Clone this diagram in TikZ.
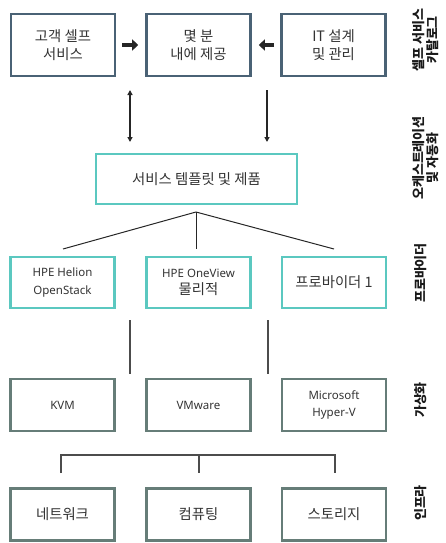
\documentclass[tikz,border=0pt]{standalone}
\usepackage{fontspec}
\setmainfont{Noto Sans}
\newfontfamily\krfont[Scale=1.25]{Noto Sans CJK KR}
\newfontfamily\krside{Noto Sans CJK KR}
\newcommand{\K}[1]{{\krfont #1}}
\usetikzlibrary{arrows.meta}
\definecolor{topc}{HTML}{4A6275}
\definecolor{tealc}{HTML}{5BC8C0}
\definecolor{grayc}{HTML}{667D78}
\definecolor{textc}{HTML}{333333}
\tikzset{
  boxbase/.style={draw, line width=2.6pt, minimum width=104pt, align=center, text=textc, font=\fontsize{11.5}{17.5}\selectfont, inner sep=2pt},
  topbox/.style={boxbase, draw=topc, minimum height=62pt},
  tealbox/.style={boxbase, draw=tealc, minimum height=51pt},
  graybox/.style={boxbase, draw=grayc, minimum height=52pt},
  sidelabel/.style={rotate=90, align=center, text=black!90, font=\krside\bfseries\fontsize{13}{14.5}\selectfont},
  boldarrow/.style={line width=3.5pt, -{Triangle[length=6pt,width=11pt]}, color=black!85},
  thinarrow/.style={line width=1.3pt, color=black!85},
  thinline/.style={line width=1pt, color=black!85},
  grayline/.style={line width=1.4pt, color=black!70},
}
\begin{document}
\begin{tikzpicture}[x=1pt,y=-1pt]
\useasboundingbox (0,0) rectangle (445,543);
% top row
\node[topbox] (self) at (63,45) {\K{고객 셀프}\\\K{서비스}};
\node[topbox] (mins) at (198.5,45) {\K{몇 분}\\\K{내에 제공}};
\node[topbox] (itd) at (333.5,45) {\K{IT 설계}\\\K{및 관리}};
\draw[boldarrow, shorten <=6pt, shorten >=7pt] (self.east) -- (mins.west);
\draw[boldarrow, shorten <=6pt, shorten >=7pt] (itd.west) -- (mins.east);
% template
\node[tealbox, minimum width=201pt, minimum height=50pt] (tmpl) at (196.5,179) {\K{서비스 템플릿 및 제품}};
\coordinate (a1) at (130,90);
\coordinate (a2) at (130,142);
\coordinate (b1) at (267,90);
\coordinate (b2) at (267,142);
\draw[thinarrow, {Triangle[length=5pt,width=5pt]}-{Triangle[length=5pt,width=5pt]}] (a1) -- (a2);
\draw[thinarrow, -{Triangle[length=5pt,width=5pt]}] (b1) -- (b2);
% providers
\node[tealbox] (helion) at (62.5,282.5) {HPE Helion\\OpenStack};
\node[tealbox] (oneview) at (198.5,282.5) {HPE OneView\\\K{물리적}};
\node[tealbox] (prov) at (334,282.5) {\K{프로바이더 1}};
\coordinate (t0) at (196,212);
\coordinate (p1) at (63,249);
\coordinate (p2) at (196,249);
\coordinate (p3) at (334,249);
\draw[thinline] (t0) -- (p1);
\draw[thinline] (t0) -- (p2);
\draw[thinline] (t0) -- (p3);
% virtualization
\node[graybox] (kvm) at (62.5,405) {KVM};
\node[graybox] (vmw) at (198.5,405) {VMware};
\node[graybox] (hyv) at (334,405) {Microsoft\\Hyper-V};
\coordinate (v1a) at (130,320);
\coordinate (v1b) at (130,374);
\coordinate (v2a) at (268,320);
\coordinate (v2b) at (268,374);
\draw[grayline] (v1a) -- (v1b);
\draw[grayline] (v2a) -- (v2b);
% infra
\node[graybox] (net) at (62.5,514.5) {\K{네트워크}};
\node[graybox] (cmp) at (198.5,514.5) {\K{컴퓨팅}};
\node[graybox] (sto) at (334,514.5) {\K{스토리지}};
\coordinate (k1) at (61,473);
\coordinate (k2) at (199,473);
\coordinate (k3) at (335,473);
\coordinate (k1t) at (61,455);
\coordinate (k2t) at (199,455);
\coordinate (k3t) at (335,455);
\draw[grayline] (k1) -- (k1t) -- (k3t) -- (k3);
\draw[grayline] (k2t) -- (k2);
% side labels
\node[sidelabel] (l1) at (425.5,40) {셀프 서비스\\카탈로그};
\node[sidelabel] (l2) at (425.5,158) {오케스트레이션\\및 자동화};
\node[sidelabel] (l3) at (421,273) {프로바이더};
\node[sidelabel] (l4) at (421,400) {가상화};
\node[sidelabel] (l5) at (421,503) {인프라};
\end{tikzpicture}
\end{document}
